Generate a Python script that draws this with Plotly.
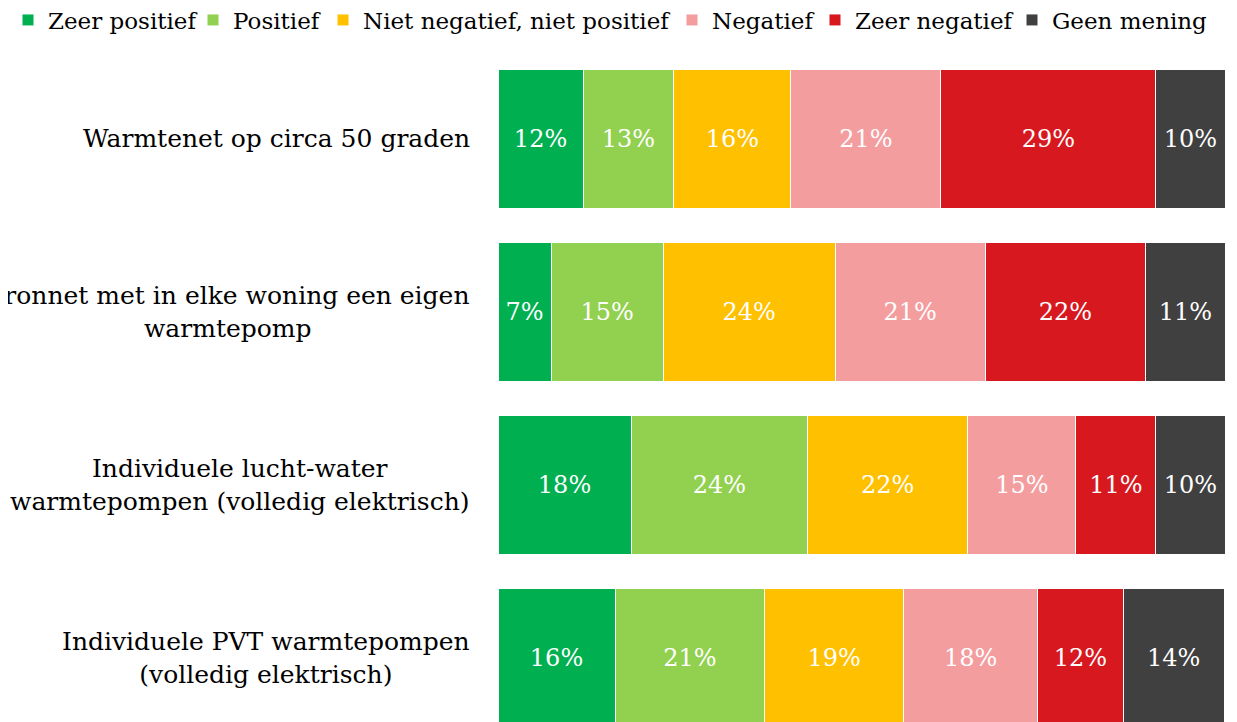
import plotly.graph_objects as go

categories = [
    "Warmtenet op circa 50 graden",
    "Bronnet met in elke woning een eigen<br>warmtepomp",
    "Individuele lucht-water<br>warmtepompen (volledig elektrisch)",
    "Individuele PVT warmtepompen<br>(volledig elektrisch)",
]
series = ["Zeer positief", "Positief", "Niet negatief, niet positief",
          "Negatief", "Zeer negatief", "Geen mening"]
colors = ["#00B050", "#92D050", "#FFC000", "#F49D9F", "#D7191F", "#404040"]

# share per answer and the printed labels
zeer_positief = [11.7, 7.3, 18.3, 16.1]
positief = [12.5, 15.4, 24.3, 20.6]
neutraal = [16.1, 23.7, 22.0, 19.1]
negatief = [20.6, 20.6, 14.9, 18.4]
zeer_negatief = [29.6, 22.1, 11.0, 11.8]
geen_mening = [9.5, 10.9, 9.5, 13.9]
values = [zeer_positief, positief, neutraal, negatief, zeer_negatief, geen_mening]

labels = [
    ["12%", "7%", "18%", "16%"],
    ["13%", "15%", "24%", "21%"],
    ["16%", "24%", "22%", "19%"],
    ["21%", "21%", "15%", "18%"],
    ["29%", "22%", "11%", "12%"],
    ["10%", "11%", "10%", "14%"],
]

font = "DejaVu Serif, Georgia, serif"
W, H = 1229, 714  # page body adds an 8px offset

# one legend per series so the row never wraps
legend_left = [0, 185, 315, 664, 807, 1004]

fig = go.Figure()
for i, (name, vals, txt, col) in enumerate(zip(series, values, labels, colors)):
    lg = "legend" if i == 0 else f"legend{i + 1}"
    fig.add_trace(go.Bar(
        y=categories, x=vals, name=name, orientation="h",
        marker=dict(color=col, line=dict(color="white", width=1)),
        text=txt, textposition="inside", insidetextanchor="middle",
        textfont=dict(color="white", size=24, family=font),
        constraintext="none", width=0.8, hoverinfo="skip",
        legend=lg, showlegend=True,
    ))
    fig.update_layout({lg: dict(
        orientation="h", xref="container", yref="container",
        x=legend_left[i] / W, xanchor="left", y=1 - 12 / H, yanchor="middle",
        font=dict(size=23, family=font, color="#000000"),
        bgcolor="rgba(0,0,0,0)", itemwidth=30,
    )})

# left-hand labels, centred lines like the original
for c in categories:
    fig.add_annotation(x=-0.0358, y=c, xref="paper", yref="y", text=c,
                       xanchor="right", align="center", showarrow=False,
                       font=dict(size=25, color="#000000", family=font))

fig.update_layout(
    barmode="stack",
    width=W, height=H,
    margin=dict(l=490, r=12, t=42, b=0),
    paper_bgcolor="white", plot_bgcolor="white",
    font=dict(family=font, color="#000000"),
    uniformtext=dict(minsize=24, mode="show"),
    xaxis=dict(range=[0, 100], visible=False),
    yaxis=dict(range=[3.37, -0.514], showticklabels=False, showgrid=False,
               zeroline=False),
)

fig.write_html("out.html")
